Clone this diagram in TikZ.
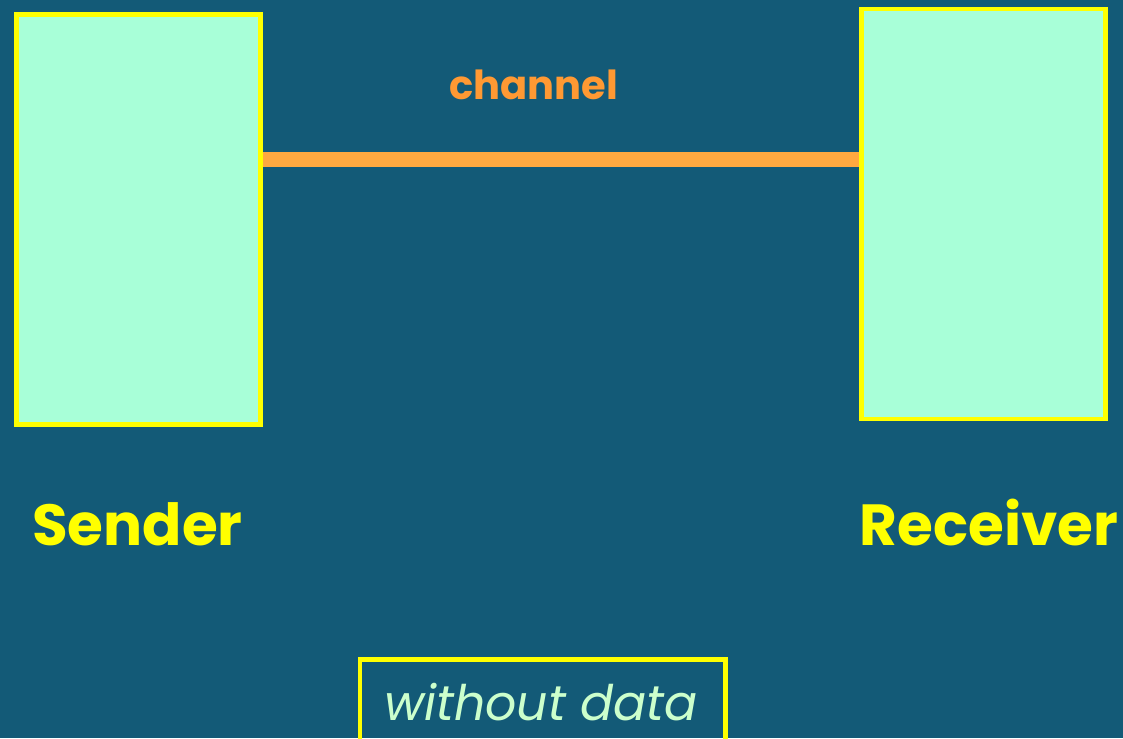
\documentclass[tikz,border=0pt]{standalone}
\usepackage{fontspec}
\setmainfont{Poppins}
\begin{document}
\definecolor{bgteal}{RGB}{19,90,119}
\definecolor{mint}{RGB}{168,255,216}
\definecolor{hiyellow}{RGB}{255,255,0}
\definecolor{wireorange}{RGB}{255,169,64}
\definecolor{labelorange}{RGB}{255,153,51}
\definecolor{palegreen}{RGB}{204,255,204}
\begin{tikzpicture}[x=1pt,y=-1pt,
  endbox/.style={draw=hiyellow, fill=mint, line width=4.7pt, rectangle,
    minimum width=244pt, minimum height=410pt, inner sep=0pt},
  wire/.style={draw=wireorange, line width=15pt},
  partylabel/.style={text=hiyellow, font=\fontsize{58}{66}\selectfont\bfseries, anchor=base, inner sep=0pt},
  wirelabel/.style={text=labelorange, font=\fontsize{40}{48}\selectfont\bfseries, anchor=base, inner sep=0pt},
  notebox/.style={draw=hiyellow, line width=4.7pt, rectangle, minimum width=365.5pt,
    minimum height=96pt, inner sep=0pt, anchor=north},
  notetext/.style={text=palegreen, font=\fontsize{49}{56}\selectfont\itshape, anchor=base, inner sep=0pt}]
  \fill[bgteal] (0,0) rectangle (1123,738);
  \useasboundingbox (0,0) rectangle (1123,738);

  % the two end points of the link
  \node[endbox] (sender) at (138.2,219.7) {};
  \node[endbox] (receiver) at (983.2,213.9) {};

  % the channel joining them
  \coordinate (wirey) at (0,159.5);
  \draw[wire] (sender.east |- wirey) -- (receiver.west |- wirey);
  \node[wirelabel] (chlabel) at (534,100) {channel};

  % names under the boxes
  \node[partylabel] (sendername) at (137.5,545) {Sender};
  \node[partylabel] (receivername) at (989,545) {Receiver};

  % note at the bottom
  \node[notebox] (note) at (542.75,657) {};
  \node[notetext] (notelabel) at (541,720) {without data};
\end{tikzpicture}
\end{document}
